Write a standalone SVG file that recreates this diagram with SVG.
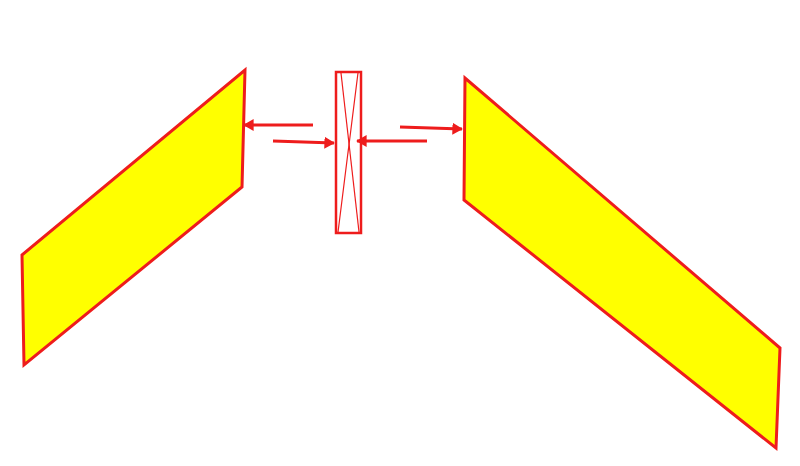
<svg xmlns="http://www.w3.org/2000/svg" width="800" height="466" viewBox="0 0 800 466">
<style>
.panel{fill:#ffff00;stroke:#ee1c1c;stroke-width:3;stroke-linejoin:miter}
.box{fill:#fff;stroke:#ee1c1c;stroke-width:2.5}
.x{stroke:#ee1c1c;stroke-width:1.2;fill:none}
.arr{stroke:#ee1c1c;stroke-width:3;fill:none;marker-end:url(#ah)}
</style>
<defs>
<marker id="ah" markerWidth="4" markerHeight="4" refX="3.2" refY="2" orient="auto" markerUnits="strokeWidth">
<path d="M0,0 L3.5,2 L0,4 Z" fill="#ee1c1c"/>
</marker>
</defs>
<rect width="800" height="466" fill="#fff"/>
<g id="left-panel"><polygon class="panel" points="245,70 242,187 24,365 22,255"/></g>
<g id="right-panel"><polygon class="panel" points="465,78 464,200 776,448 780,348"/></g>
<g id="center-element">
<rect class="box" x="336" y="72" width="25" height="161"/>
<line class="x" x1="341" y1="73" x2="359" y2="232"/>
<line class="x" x1="358" y1="73" x2="338" y2="232"/>
</g>
<g id="connectors">
<line class="arr" x1="313" y1="125" x2="244" y2="125"/>
<line class="arr" x1="273" y1="141" x2="334" y2="143"/>
<line class="arr" x1="427" y1="141" x2="357" y2="141"/>
<line class="arr" x1="400" y1="127" x2="462" y2="129"/>
</g>
</svg>
